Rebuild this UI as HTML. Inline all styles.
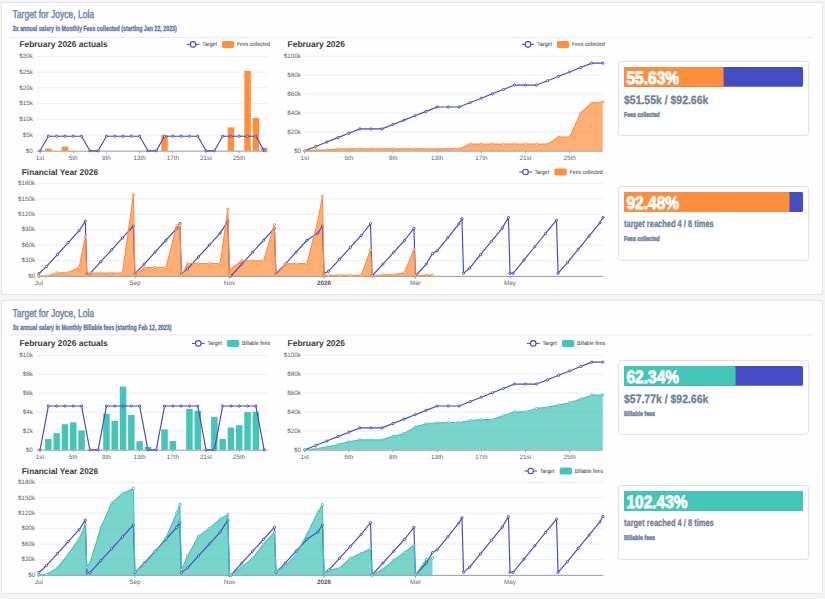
<!DOCTYPE html>
<html lang="en"><head><meta charset="utf-8"><title>Targets</title>
<style>
html,body{margin:0;padding:0}
body{width:825px;height:599px;overflow:hidden;background:#f4f4f5;position:relative;font-family:"Liberation Sans", sans-serif}
.panel{position:absolute;left:1px;width:820px;background:#fefefe;border:1px solid #e3e6eb;box-sizing:content-box}
</style></head><body>
<div class="panel" style="top:2px;height:291px"></div>
<div class="panel" style="top:300px;height:292px"></div>
<svg width="825" height="599" viewBox="0 0 825 599" font-family='"Liberation Sans", sans-serif' text-rendering="geometricPrecision" style="position:absolute;left:0;top:0">
<text x="12.60" y="18.00" font-size="11.3" textLength="81.50" lengthAdjust="spacingAndGlyphs" fill="#6f85a8" stroke="#6f85a8" stroke-width="0.45">Target for Joyce, Lola</text>
<text x="12.80" y="31.30" font-size="7.6" font-weight="bold" textLength="164.00" lengthAdjust="spacingAndGlyphs" fill="#5874ab" stroke="#5874ab" stroke-width="0.3">3x annual salary in Monthly Fees collected (starting Jan 22, 2023)</text>
<line x1="10.00" y1="37.40" x2="813.00" y2="37.40" stroke="#e3e6ee" stroke-width="0.9"/>
<text x="19.40" y="46.90" font-size="8.5" font-weight="bold" textLength="88.40" lengthAdjust="spacingAndGlyphs" fill="#3a3a3a">February 2026 actuals</text>
<text x="287.50" y="46.90" font-size="8.5" font-weight="bold" textLength="57.50" lengthAdjust="spacingAndGlyphs" fill="#3a3a3a">February 2026</text>
<text x="21.80" y="174.80" font-size="8.4" font-weight="bold" textLength="76.20" lengthAdjust="spacingAndGlyphs" fill="#3a3a3a">Financial Year 2026</text>
<text x="32.80" y="152.70" font-size="6.3" text-anchor="end" fill="#63656d">$0</text>
<line x1="36.80" y1="135.05" x2="267.70" y2="135.05" stroke="#e8ebf5" stroke-width="0.85"/>
<text x="32.80" y="136.95" font-size="6.3" text-anchor="end" fill="#63656d">$5k</text>
<line x1="36.80" y1="119.30" x2="267.70" y2="119.30" stroke="#e8ebf5" stroke-width="0.85"/>
<text x="32.80" y="121.20" font-size="6.3" text-anchor="end" fill="#63656d">$10k</text>
<line x1="36.80" y1="103.55" x2="267.70" y2="103.55" stroke="#e8ebf5" stroke-width="0.85"/>
<text x="32.80" y="105.45" font-size="6.3" text-anchor="end" fill="#63656d">$15k</text>
<line x1="36.80" y1="87.80" x2="267.70" y2="87.80" stroke="#e8ebf5" stroke-width="0.85"/>
<text x="32.80" y="89.70" font-size="6.3" text-anchor="end" fill="#63656d">$20k</text>
<line x1="36.80" y1="72.05" x2="267.70" y2="72.05" stroke="#e8ebf5" stroke-width="0.85"/>
<text x="32.80" y="73.95" font-size="6.3" text-anchor="end" fill="#63656d">$25k</text>
<line x1="36.80" y1="56.30" x2="267.70" y2="56.30" stroke="#e8ebf5" stroke-width="0.85"/>
<text x="32.80" y="58.20" font-size="6.3" text-anchor="end" fill="#63656d">$30k</text>
<rect x="45.10" y="148.44" width="6.50" height="2.36" fill="#ff8f3f"/>
<rect x="61.70" y="146.71" width="6.50" height="4.10" fill="#ff8f3f"/>
<rect x="161.30" y="135.21" width="6.50" height="15.59" fill="#ff8f3f"/>
<rect x="227.70" y="127.33" width="6.50" height="23.47" fill="#ff8f3f"/>
<rect x="244.30" y="70.95" width="6.50" height="79.85" fill="#ff8f3f"/>
<rect x="252.60" y="118.04" width="6.50" height="32.76" fill="#ff8f3f"/>
<rect x="260.90" y="147.65" width="6.50" height="3.15" fill="#ff8f3f"/>
<line x1="36.80" y1="151.15" x2="267.70" y2="151.15" stroke="#8a8d96" stroke-width="0.9"/>
<path d="M40.05 150.80 L48.35 136.21 L56.65 136.21 L64.95 136.21 L73.25 136.21 L81.55 136.21 L89.85 150.80 L98.15 150.80 L106.45 136.21 L114.75 136.21 L123.05 136.21 L131.35 136.21 L139.65 136.21 L147.95 150.80 L156.25 150.80 L164.55 136.21 L172.85 136.21 L181.15 136.21 L189.45 136.21 L197.75 136.21 L206.05 150.80 L214.35 150.80 L222.65 136.21 L230.95 136.21 L239.25 136.21 L247.55 136.21 L255.85 136.21 L264.15 150.80" fill="none" stroke="#4549c1" stroke-width="1.15" stroke-linejoin="round"/>
<circle cx="40.05" cy="150.80" r="1.1" fill="#fff" stroke="#4549c1" stroke-width="1.0"/>
<circle cx="48.35" cy="136.21" r="1.1" fill="#fff" stroke="#4549c1" stroke-width="1.0"/>
<circle cx="56.65" cy="136.21" r="1.1" fill="#fff" stroke="#4549c1" stroke-width="1.0"/>
<circle cx="64.95" cy="136.21" r="1.1" fill="#fff" stroke="#4549c1" stroke-width="1.0"/>
<circle cx="73.25" cy="136.21" r="1.1" fill="#fff" stroke="#4549c1" stroke-width="1.0"/>
<circle cx="81.55" cy="136.21" r="1.1" fill="#fff" stroke="#4549c1" stroke-width="1.0"/>
<circle cx="89.85" cy="150.80" r="1.1" fill="#fff" stroke="#4549c1" stroke-width="1.0"/>
<circle cx="98.15" cy="150.80" r="1.1" fill="#fff" stroke="#4549c1" stroke-width="1.0"/>
<circle cx="106.45" cy="136.21" r="1.1" fill="#fff" stroke="#4549c1" stroke-width="1.0"/>
<circle cx="114.75" cy="136.21" r="1.1" fill="#fff" stroke="#4549c1" stroke-width="1.0"/>
<circle cx="123.05" cy="136.21" r="1.1" fill="#fff" stroke="#4549c1" stroke-width="1.0"/>
<circle cx="131.35" cy="136.21" r="1.1" fill="#fff" stroke="#4549c1" stroke-width="1.0"/>
<circle cx="139.65" cy="136.21" r="1.1" fill="#fff" stroke="#4549c1" stroke-width="1.0"/>
<circle cx="147.95" cy="150.80" r="1.1" fill="#fff" stroke="#4549c1" stroke-width="1.0"/>
<circle cx="156.25" cy="150.80" r="1.1" fill="#fff" stroke="#4549c1" stroke-width="1.0"/>
<circle cx="164.55" cy="136.21" r="1.1" fill="#fff" stroke="#4549c1" stroke-width="1.0"/>
<circle cx="172.85" cy="136.21" r="1.1" fill="#fff" stroke="#4549c1" stroke-width="1.0"/>
<circle cx="181.15" cy="136.21" r="1.1" fill="#fff" stroke="#4549c1" stroke-width="1.0"/>
<circle cx="189.45" cy="136.21" r="1.1" fill="#fff" stroke="#4549c1" stroke-width="1.0"/>
<circle cx="197.75" cy="136.21" r="1.1" fill="#fff" stroke="#4549c1" stroke-width="1.0"/>
<circle cx="206.05" cy="150.80" r="1.1" fill="#fff" stroke="#4549c1" stroke-width="1.0"/>
<circle cx="214.35" cy="150.80" r="1.1" fill="#fff" stroke="#4549c1" stroke-width="1.0"/>
<circle cx="222.65" cy="136.21" r="1.1" fill="#fff" stroke="#4549c1" stroke-width="1.0"/>
<circle cx="230.95" cy="136.21" r="1.1" fill="#fff" stroke="#4549c1" stroke-width="1.0"/>
<circle cx="239.25" cy="136.21" r="1.1" fill="#fff" stroke="#4549c1" stroke-width="1.0"/>
<circle cx="247.55" cy="136.21" r="1.1" fill="#fff" stroke="#4549c1" stroke-width="1.0"/>
<circle cx="255.85" cy="136.21" r="1.1" fill="#fff" stroke="#4549c1" stroke-width="1.0"/>
<circle cx="264.15" cy="150.80" r="1.1" fill="#fff" stroke="#4549c1" stroke-width="1.0"/>
<line x1="40.05" y1="151.15" x2="40.05" y2="153.20" stroke="#8a8d96" stroke-width="0.7"/>
<text x="40.05" y="159.70" font-size="6.3" text-anchor="middle" fill="#63656d">1st</text>
<line x1="73.25" y1="151.15" x2="73.25" y2="153.20" stroke="#8a8d96" stroke-width="0.7"/>
<text x="73.25" y="159.70" font-size="6.3" text-anchor="middle" fill="#63656d">5th</text>
<line x1="106.45" y1="151.15" x2="106.45" y2="153.20" stroke="#8a8d96" stroke-width="0.7"/>
<text x="106.45" y="159.70" font-size="6.3" text-anchor="middle" fill="#63656d">9th</text>
<line x1="139.65" y1="151.15" x2="139.65" y2="153.20" stroke="#8a8d96" stroke-width="0.7"/>
<text x="139.65" y="159.70" font-size="6.3" text-anchor="middle" fill="#63656d">13th</text>
<line x1="172.85" y1="151.15" x2="172.85" y2="153.20" stroke="#8a8d96" stroke-width="0.7"/>
<text x="172.85" y="159.70" font-size="6.3" text-anchor="middle" fill="#63656d">17th</text>
<line x1="206.05" y1="151.15" x2="206.05" y2="153.20" stroke="#8a8d96" stroke-width="0.7"/>
<text x="206.05" y="159.70" font-size="6.3" text-anchor="middle" fill="#63656d">21st</text>
<line x1="239.25" y1="151.15" x2="239.25" y2="153.20" stroke="#8a8d96" stroke-width="0.7"/>
<text x="239.25" y="159.70" font-size="6.3" text-anchor="middle" fill="#63656d">25th</text>
<line x1="186.70" y1="44.40" x2="199.30" y2="44.40" stroke="#4549c1" stroke-width="1"/>
<circle cx="193.00" cy="44.40" r="2.75" fill="#fff" stroke="#4549c1" stroke-width="1.1"/>
<text x="202.30" y="46.40" font-size="6.0" textLength="14.70" lengthAdjust="spacingAndGlyphs" fill="#333">Target</text>
<rect x="221.90" y="40.90" width="12.20" height="7" rx="1.6" fill="#ff8f3f"/>
<text x="237.00" y="46.40" font-size="6.0" textLength="32.90" lengthAdjust="spacingAndGlyphs" fill="#333">Fees collected</text>
<text x="300.90" y="152.70" font-size="6.3" text-anchor="end" fill="#63656d">$0</text>
<line x1="304.30" y1="131.88" x2="602.90" y2="131.88" stroke="#e8ebf5" stroke-width="0.85"/>
<text x="300.90" y="133.78" font-size="6.3" text-anchor="end" fill="#63656d">$20k</text>
<line x1="304.30" y1="112.96" x2="602.90" y2="112.96" stroke="#e8ebf5" stroke-width="0.85"/>
<text x="300.90" y="114.86" font-size="6.3" text-anchor="end" fill="#63656d">$40k</text>
<line x1="304.30" y1="94.04" x2="602.90" y2="94.04" stroke="#e8ebf5" stroke-width="0.85"/>
<text x="300.90" y="95.94" font-size="6.3" text-anchor="end" fill="#63656d">$60k</text>
<line x1="304.30" y1="75.12" x2="602.90" y2="75.12" stroke="#e8ebf5" stroke-width="0.85"/>
<text x="300.90" y="77.02" font-size="6.3" text-anchor="end" fill="#63656d">$80k</text>
<line x1="304.30" y1="56.20" x2="602.90" y2="56.20" stroke="#e8ebf5" stroke-width="0.85"/>
<text x="300.90" y="58.10" font-size="6.3" text-anchor="end" fill="#63656d">$100k</text>
<path d="M304.70 150.80 L315.74 150.09 L326.78 150.09 L337.82 148.85 L348.86 148.85 L359.90 148.85 L370.94 148.85 L381.98 148.85 L393.02 148.85 L404.06 148.85 L415.10 148.85 L426.14 148.85 L437.18 148.85 L448.22 148.85 L459.26 148.85 L470.30 144.13 L481.34 144.13 L492.38 144.13 L503.42 144.13 L514.46 144.13 L525.50 144.13 L536.54 144.13 L547.58 144.13 L558.62 137.04 L569.66 137.04 L580.70 112.89 L591.74 102.99 L602.78 102.03 L602.78 150.80 L304.70 150.80 Z" fill="#ff8f3f" fill-opacity="0.72" stroke="none"/>
<line x1="304.30" y1="151.15" x2="602.90" y2="151.15" stroke="#8a8d96" stroke-width="0.9"/>
<path d="M304.70 150.80 L315.74 146.42 L326.78 142.03 L337.82 137.65 L348.86 133.27 L359.90 128.89 L370.94 128.89 L381.98 128.89 L393.02 124.50 L404.06 120.12 L415.10 115.74 L426.14 111.35 L437.18 106.97 L448.22 106.97 L459.26 106.97 L470.30 102.59 L481.34 98.21 L492.38 93.82 L503.42 89.44 L514.46 85.06 L525.50 85.06 L536.54 85.06 L547.58 80.67 L558.62 76.29 L569.66 71.91 L580.70 67.53 L591.74 63.14 L602.78 63.14" fill="none" stroke="#4549c1" stroke-width="1.15" stroke-linejoin="round"/>
<circle cx="304.70" cy="150.80" r="1.1" fill="#fff" stroke="#4549c1" stroke-width="1.0"/>
<circle cx="315.74" cy="146.42" r="1.1" fill="#fff" stroke="#4549c1" stroke-width="1.0"/>
<circle cx="326.78" cy="142.03" r="1.1" fill="#fff" stroke="#4549c1" stroke-width="1.0"/>
<circle cx="337.82" cy="137.65" r="1.1" fill="#fff" stroke="#4549c1" stroke-width="1.0"/>
<circle cx="348.86" cy="133.27" r="1.1" fill="#fff" stroke="#4549c1" stroke-width="1.0"/>
<circle cx="359.90" cy="128.89" r="1.1" fill="#fff" stroke="#4549c1" stroke-width="1.0"/>
<circle cx="370.94" cy="128.89" r="1.1" fill="#fff" stroke="#4549c1" stroke-width="1.0"/>
<circle cx="381.98" cy="128.89" r="1.1" fill="#fff" stroke="#4549c1" stroke-width="1.0"/>
<circle cx="393.02" cy="124.50" r="1.1" fill="#fff" stroke="#4549c1" stroke-width="1.0"/>
<circle cx="404.06" cy="120.12" r="1.1" fill="#fff" stroke="#4549c1" stroke-width="1.0"/>
<circle cx="415.10" cy="115.74" r="1.1" fill="#fff" stroke="#4549c1" stroke-width="1.0"/>
<circle cx="426.14" cy="111.35" r="1.1" fill="#fff" stroke="#4549c1" stroke-width="1.0"/>
<circle cx="437.18" cy="106.97" r="1.1" fill="#fff" stroke="#4549c1" stroke-width="1.0"/>
<circle cx="448.22" cy="106.97" r="1.1" fill="#fff" stroke="#4549c1" stroke-width="1.0"/>
<circle cx="459.26" cy="106.97" r="1.1" fill="#fff" stroke="#4549c1" stroke-width="1.0"/>
<circle cx="470.30" cy="102.59" r="1.1" fill="#fff" stroke="#4549c1" stroke-width="1.0"/>
<circle cx="481.34" cy="98.21" r="1.1" fill="#fff" stroke="#4549c1" stroke-width="1.0"/>
<circle cx="492.38" cy="93.82" r="1.1" fill="#fff" stroke="#4549c1" stroke-width="1.0"/>
<circle cx="503.42" cy="89.44" r="1.1" fill="#fff" stroke="#4549c1" stroke-width="1.0"/>
<circle cx="514.46" cy="85.06" r="1.1" fill="#fff" stroke="#4549c1" stroke-width="1.0"/>
<circle cx="525.50" cy="85.06" r="1.1" fill="#fff" stroke="#4549c1" stroke-width="1.0"/>
<circle cx="536.54" cy="85.06" r="1.1" fill="#fff" stroke="#4549c1" stroke-width="1.0"/>
<circle cx="547.58" cy="80.67" r="1.1" fill="#fff" stroke="#4549c1" stroke-width="1.0"/>
<circle cx="558.62" cy="76.29" r="1.1" fill="#fff" stroke="#4549c1" stroke-width="1.0"/>
<circle cx="569.66" cy="71.91" r="1.1" fill="#fff" stroke="#4549c1" stroke-width="1.0"/>
<circle cx="580.70" cy="67.53" r="1.1" fill="#fff" stroke="#4549c1" stroke-width="1.0"/>
<circle cx="591.74" cy="63.14" r="1.1" fill="#fff" stroke="#4549c1" stroke-width="1.0"/>
<circle cx="602.78" cy="63.14" r="1.1" fill="#fff" stroke="#4549c1" stroke-width="1.0"/>
<path d="M304.70 150.80 L315.74 150.09 L326.78 150.09 L337.82 148.85 L348.86 148.85 L359.90 148.85 L370.94 148.85 L381.98 148.85 L393.02 148.85 L404.06 148.85 L415.10 148.85 L426.14 148.85 L437.18 148.85 L448.22 148.85 L459.26 148.85 L470.30 144.13 L481.34 144.13 L492.38 144.13 L503.42 144.13 L514.46 144.13 L525.50 144.13 L536.54 144.13 L547.58 144.13 L558.62 137.04 L569.66 137.04 L580.70 112.89 L591.74 102.99 L602.78 102.03" fill="none" stroke="#ff8f3f" stroke-width="1.1" stroke-linejoin="round"/>
<circle cx="304.70" cy="150.80" r="1.1" fill="#fff" stroke="#ff8f3f" stroke-width="1.0"/>
<circle cx="315.74" cy="150.09" r="1.1" fill="#fff" stroke="#ff8f3f" stroke-width="1.0"/>
<circle cx="326.78" cy="150.09" r="1.1" fill="#fff" stroke="#ff8f3f" stroke-width="1.0"/>
<circle cx="337.82" cy="148.85" r="1.1" fill="#fff" stroke="#ff8f3f" stroke-width="1.0"/>
<circle cx="348.86" cy="148.85" r="1.1" fill="#fff" stroke="#ff8f3f" stroke-width="1.0"/>
<circle cx="359.90" cy="148.85" r="1.1" fill="#fff" stroke="#ff8f3f" stroke-width="1.0"/>
<circle cx="370.94" cy="148.85" r="1.1" fill="#fff" stroke="#ff8f3f" stroke-width="1.0"/>
<circle cx="381.98" cy="148.85" r="1.1" fill="#fff" stroke="#ff8f3f" stroke-width="1.0"/>
<circle cx="393.02" cy="148.85" r="1.1" fill="#fff" stroke="#ff8f3f" stroke-width="1.0"/>
<circle cx="404.06" cy="148.85" r="1.1" fill="#fff" stroke="#ff8f3f" stroke-width="1.0"/>
<circle cx="415.10" cy="148.85" r="1.1" fill="#fff" stroke="#ff8f3f" stroke-width="1.0"/>
<circle cx="426.14" cy="148.85" r="1.1" fill="#fff" stroke="#ff8f3f" stroke-width="1.0"/>
<circle cx="437.18" cy="148.85" r="1.1" fill="#fff" stroke="#ff8f3f" stroke-width="1.0"/>
<circle cx="448.22" cy="148.85" r="1.1" fill="#fff" stroke="#ff8f3f" stroke-width="1.0"/>
<circle cx="459.26" cy="148.85" r="1.1" fill="#fff" stroke="#ff8f3f" stroke-width="1.0"/>
<circle cx="470.30" cy="144.13" r="1.1" fill="#fff" stroke="#ff8f3f" stroke-width="1.0"/>
<circle cx="481.34" cy="144.13" r="1.1" fill="#fff" stroke="#ff8f3f" stroke-width="1.0"/>
<circle cx="492.38" cy="144.13" r="1.1" fill="#fff" stroke="#ff8f3f" stroke-width="1.0"/>
<circle cx="503.42" cy="144.13" r="1.1" fill="#fff" stroke="#ff8f3f" stroke-width="1.0"/>
<circle cx="514.46" cy="144.13" r="1.1" fill="#fff" stroke="#ff8f3f" stroke-width="1.0"/>
<circle cx="525.50" cy="144.13" r="1.1" fill="#fff" stroke="#ff8f3f" stroke-width="1.0"/>
<circle cx="536.54" cy="144.13" r="1.1" fill="#fff" stroke="#ff8f3f" stroke-width="1.0"/>
<circle cx="547.58" cy="144.13" r="1.1" fill="#fff" stroke="#ff8f3f" stroke-width="1.0"/>
<circle cx="558.62" cy="137.04" r="1.1" fill="#fff" stroke="#ff8f3f" stroke-width="1.0"/>
<circle cx="569.66" cy="137.04" r="1.1" fill="#fff" stroke="#ff8f3f" stroke-width="1.0"/>
<circle cx="580.70" cy="112.89" r="1.1" fill="#fff" stroke="#ff8f3f" stroke-width="1.0"/>
<circle cx="591.74" cy="102.99" r="1.1" fill="#fff" stroke="#ff8f3f" stroke-width="1.0"/>
<circle cx="602.78" cy="102.03" r="1.1" fill="#fff" stroke="#ff8f3f" stroke-width="1.0"/>
<line x1="304.70" y1="151.15" x2="304.70" y2="153.20" stroke="#8a8d96" stroke-width="0.7"/>
<text x="304.70" y="159.70" font-size="6.3" text-anchor="middle" fill="#63656d">1st</text>
<line x1="348.86" y1="151.15" x2="348.86" y2="153.20" stroke="#8a8d96" stroke-width="0.7"/>
<text x="348.86" y="159.70" font-size="6.3" text-anchor="middle" fill="#63656d">5th</text>
<line x1="393.02" y1="151.15" x2="393.02" y2="153.20" stroke="#8a8d96" stroke-width="0.7"/>
<text x="393.02" y="159.70" font-size="6.3" text-anchor="middle" fill="#63656d">9th</text>
<line x1="437.18" y1="151.15" x2="437.18" y2="153.20" stroke="#8a8d96" stroke-width="0.7"/>
<text x="437.18" y="159.70" font-size="6.3" text-anchor="middle" fill="#63656d">13th</text>
<line x1="481.34" y1="151.15" x2="481.34" y2="153.20" stroke="#8a8d96" stroke-width="0.7"/>
<text x="481.34" y="159.70" font-size="6.3" text-anchor="middle" fill="#63656d">17th</text>
<line x1="525.50" y1="151.15" x2="525.50" y2="153.20" stroke="#8a8d96" stroke-width="0.7"/>
<text x="525.50" y="159.70" font-size="6.3" text-anchor="middle" fill="#63656d">21st</text>
<line x1="569.66" y1="151.15" x2="569.66" y2="153.20" stroke="#8a8d96" stroke-width="0.7"/>
<text x="569.66" y="159.70" font-size="6.3" text-anchor="middle" fill="#63656d">25th</text>
<line x1="521.70" y1="44.40" x2="534.30" y2="44.40" stroke="#4549c1" stroke-width="1"/>
<circle cx="528.00" cy="44.40" r="2.75" fill="#fff" stroke="#4549c1" stroke-width="1.1"/>
<text x="537.30" y="46.40" font-size="6.0" textLength="14.70" lengthAdjust="spacingAndGlyphs" fill="#333">Target</text>
<rect x="556.90" y="40.90" width="12.20" height="7" rx="1.6" fill="#ff8f3f"/>
<text x="572.00" y="46.40" font-size="6.0" textLength="32.90" lengthAdjust="spacingAndGlyphs" fill="#333">Fees collected</text>
<text x="35.20" y="277.70" font-size="6.3" text-anchor="end" fill="#63656d">$0</text>
<line x1="38.60" y1="260.57" x2="603.20" y2="260.57" stroke="#e8ebf5" stroke-width="0.85"/>
<text x="35.20" y="262.27" font-size="6.3" text-anchor="end" fill="#63656d">$30k</text>
<line x1="38.60" y1="245.13" x2="603.20" y2="245.13" stroke="#e8ebf5" stroke-width="0.85"/>
<text x="35.20" y="246.83" font-size="6.3" text-anchor="end" fill="#63656d">$60k</text>
<line x1="38.60" y1="229.70" x2="603.20" y2="229.70" stroke="#e8ebf5" stroke-width="0.85"/>
<text x="35.20" y="231.40" font-size="6.3" text-anchor="end" fill="#63656d">$90k</text>
<line x1="38.60" y1="214.27" x2="603.20" y2="214.27" stroke="#e8ebf5" stroke-width="0.85"/>
<text x="35.20" y="215.97" font-size="6.3" text-anchor="end" fill="#63656d">$120k</text>
<line x1="38.60" y1="198.83" x2="603.20" y2="198.83" stroke="#e8ebf5" stroke-width="0.85"/>
<text x="35.20" y="200.53" font-size="6.3" text-anchor="end" fill="#63656d">$150k</text>
<line x1="38.60" y1="183.40" x2="603.20" y2="183.40" stroke="#e8ebf5" stroke-width="0.85"/>
<text x="35.20" y="185.10" font-size="6.3" text-anchor="end" fill="#63656d">$180k</text>
<path d="M38.80 276.00 L46.55 276.00 L57.40 272.71 L68.25 272.71 L79.10 267.25 L85.30 236.90 L86.85 276.00 L89.95 273.17 L100.80 273.17 L111.65 273.17 L122.50 273.17 L133.35 194.98 L134.90 276.00 L144.20 267.51 L155.05 267.51 L165.90 267.51 L176.75 225.69 L179.85 225.69 L181.40 276.00 L187.60 263.50 L198.45 263.50 L209.30 263.50 L220.15 263.50 L227.90 209.12 L229.45 276.00 L231.00 268.80 L241.85 260.72 L252.70 260.72 L263.55 260.72 L274.40 224.66 L275.95 276.00 L285.25 263.86 L296.10 263.65 L306.95 263.65 L317.80 221.47 L322.45 196.26 L324.00 276.00 L328.65 275.33 L339.50 275.33 L350.35 275.33 L361.20 275.33 L370.50 249.76 L372.05 276.00 L382.90 274.82 L393.75 274.82 L404.60 272.50 L413.90 249.48 L415.45 276.00 L426.30 275.13 L432.50 275.13 L432.50 276.00 L38.80 276.00 Z" fill="#ff8f3f" fill-opacity="0.72" stroke="none"/>
<line x1="38.60" y1="276.35" x2="603.20" y2="276.35" stroke="#8a8d96" stroke-width="0.9"/>
<path d="M38.80 273.62 L46.55 266.47 L57.40 254.55 L68.25 242.63 L79.10 230.71 L85.30 221.18 L86.85 273.62 L89.95 273.62 L100.80 261.70 L111.65 249.78 L122.50 237.87 L133.35 225.95 L134.90 273.62 L144.20 264.08 L155.05 252.17 L165.90 240.25 L176.75 228.33 L179.85 223.56 L181.40 273.62 L187.60 268.85 L198.45 256.93 L209.30 245.02 L220.15 233.10 L227.90 221.18 L229.45 276.00 L231.00 276.00 L241.85 264.08 L252.70 252.17 L263.55 240.25 L274.40 228.33 L275.95 273.62 L285.25 264.08 L296.10 252.17 L306.95 240.25 L317.80 233.10 L322.45 225.95 L324.00 273.62 L328.65 271.23 L339.50 259.32 L350.35 247.40 L361.20 235.48 L370.50 223.56 L372.05 276.00 L382.90 264.08 L393.75 252.17 L404.60 240.25 L413.90 228.33 L415.45 276.00 L426.30 264.06 L432.50 253.62 L437.15 250.79 L448.00 237.67 L458.85 223.94 L461.95 218.74 L463.50 273.34 L469.70 268.02 L480.55 254.72 L491.40 241.42 L502.25 228.13 L508.45 217.49 L510.00 273.34 L513.10 273.34 L523.95 260.04 L534.80 246.74 L545.65 233.45 L556.50 220.15 L558.05 273.34 L567.35 262.70 L578.20 249.40 L589.05 236.10 L599.90 222.81 L603.00 217.49" fill="none" stroke="#4549c1" stroke-width="1.15" stroke-linejoin="round"/>
<circle cx="38.80" cy="273.62" r="1.1" fill="#fff" stroke="#4549c1" stroke-width="1.0"/>
<circle cx="46.55" cy="266.47" r="1.1" fill="#fff" stroke="#4549c1" stroke-width="1.0"/>
<circle cx="57.40" cy="254.55" r="1.1" fill="#fff" stroke="#4549c1" stroke-width="1.0"/>
<circle cx="68.25" cy="242.63" r="1.1" fill="#fff" stroke="#4549c1" stroke-width="1.0"/>
<circle cx="79.10" cy="230.71" r="1.1" fill="#fff" stroke="#4549c1" stroke-width="1.0"/>
<circle cx="85.30" cy="221.18" r="1.1" fill="#fff" stroke="#4549c1" stroke-width="1.0"/>
<circle cx="86.85" cy="273.62" r="1.1" fill="#fff" stroke="#4549c1" stroke-width="1.0"/>
<circle cx="89.95" cy="273.62" r="1.1" fill="#fff" stroke="#4549c1" stroke-width="1.0"/>
<circle cx="100.80" cy="261.70" r="1.1" fill="#fff" stroke="#4549c1" stroke-width="1.0"/>
<circle cx="111.65" cy="249.78" r="1.1" fill="#fff" stroke="#4549c1" stroke-width="1.0"/>
<circle cx="122.50" cy="237.87" r="1.1" fill="#fff" stroke="#4549c1" stroke-width="1.0"/>
<circle cx="133.35" cy="225.95" r="1.1" fill="#fff" stroke="#4549c1" stroke-width="1.0"/>
<circle cx="134.90" cy="273.62" r="1.1" fill="#fff" stroke="#4549c1" stroke-width="1.0"/>
<circle cx="144.20" cy="264.08" r="1.1" fill="#fff" stroke="#4549c1" stroke-width="1.0"/>
<circle cx="155.05" cy="252.17" r="1.1" fill="#fff" stroke="#4549c1" stroke-width="1.0"/>
<circle cx="165.90" cy="240.25" r="1.1" fill="#fff" stroke="#4549c1" stroke-width="1.0"/>
<circle cx="176.75" cy="228.33" r="1.1" fill="#fff" stroke="#4549c1" stroke-width="1.0"/>
<circle cx="179.85" cy="223.56" r="1.1" fill="#fff" stroke="#4549c1" stroke-width="1.0"/>
<circle cx="181.40" cy="273.62" r="1.1" fill="#fff" stroke="#4549c1" stroke-width="1.0"/>
<circle cx="187.60" cy="268.85" r="1.1" fill="#fff" stroke="#4549c1" stroke-width="1.0"/>
<circle cx="198.45" cy="256.93" r="1.1" fill="#fff" stroke="#4549c1" stroke-width="1.0"/>
<circle cx="209.30" cy="245.02" r="1.1" fill="#fff" stroke="#4549c1" stroke-width="1.0"/>
<circle cx="220.15" cy="233.10" r="1.1" fill="#fff" stroke="#4549c1" stroke-width="1.0"/>
<circle cx="227.90" cy="221.18" r="1.1" fill="#fff" stroke="#4549c1" stroke-width="1.0"/>
<circle cx="229.45" cy="276.00" r="1.1" fill="#fff" stroke="#4549c1" stroke-width="1.0"/>
<circle cx="231.00" cy="276.00" r="1.1" fill="#fff" stroke="#4549c1" stroke-width="1.0"/>
<circle cx="241.85" cy="264.08" r="1.1" fill="#fff" stroke="#4549c1" stroke-width="1.0"/>
<circle cx="252.70" cy="252.17" r="1.1" fill="#fff" stroke="#4549c1" stroke-width="1.0"/>
<circle cx="263.55" cy="240.25" r="1.1" fill="#fff" stroke="#4549c1" stroke-width="1.0"/>
<circle cx="274.40" cy="228.33" r="1.1" fill="#fff" stroke="#4549c1" stroke-width="1.0"/>
<circle cx="275.95" cy="273.62" r="1.1" fill="#fff" stroke="#4549c1" stroke-width="1.0"/>
<circle cx="285.25" cy="264.08" r="1.1" fill="#fff" stroke="#4549c1" stroke-width="1.0"/>
<circle cx="296.10" cy="252.17" r="1.1" fill="#fff" stroke="#4549c1" stroke-width="1.0"/>
<circle cx="306.95" cy="240.25" r="1.1" fill="#fff" stroke="#4549c1" stroke-width="1.0"/>
<circle cx="317.80" cy="233.10" r="1.1" fill="#fff" stroke="#4549c1" stroke-width="1.0"/>
<circle cx="322.45" cy="225.95" r="1.1" fill="#fff" stroke="#4549c1" stroke-width="1.0"/>
<circle cx="324.00" cy="273.62" r="1.1" fill="#fff" stroke="#4549c1" stroke-width="1.0"/>
<circle cx="328.65" cy="271.23" r="1.1" fill="#fff" stroke="#4549c1" stroke-width="1.0"/>
<circle cx="339.50" cy="259.32" r="1.1" fill="#fff" stroke="#4549c1" stroke-width="1.0"/>
<circle cx="350.35" cy="247.40" r="1.1" fill="#fff" stroke="#4549c1" stroke-width="1.0"/>
<circle cx="361.20" cy="235.48" r="1.1" fill="#fff" stroke="#4549c1" stroke-width="1.0"/>
<circle cx="370.50" cy="223.56" r="1.1" fill="#fff" stroke="#4549c1" stroke-width="1.0"/>
<circle cx="372.05" cy="276.00" r="1.1" fill="#fff" stroke="#4549c1" stroke-width="1.0"/>
<circle cx="382.90" cy="264.08" r="1.1" fill="#fff" stroke="#4549c1" stroke-width="1.0"/>
<circle cx="393.75" cy="252.17" r="1.1" fill="#fff" stroke="#4549c1" stroke-width="1.0"/>
<circle cx="404.60" cy="240.25" r="1.1" fill="#fff" stroke="#4549c1" stroke-width="1.0"/>
<circle cx="413.90" cy="228.33" r="1.1" fill="#fff" stroke="#4549c1" stroke-width="1.0"/>
<circle cx="415.45" cy="276.00" r="1.1" fill="#fff" stroke="#4549c1" stroke-width="1.0"/>
<circle cx="426.30" cy="264.06" r="1.1" fill="#fff" stroke="#4549c1" stroke-width="1.0"/>
<circle cx="432.50" cy="253.62" r="1.1" fill="#fff" stroke="#4549c1" stroke-width="1.0"/>
<circle cx="437.15" cy="250.79" r="1.1" fill="#fff" stroke="#4549c1" stroke-width="1.0"/>
<circle cx="448.00" cy="237.67" r="1.1" fill="#fff" stroke="#4549c1" stroke-width="1.0"/>
<circle cx="458.85" cy="223.94" r="1.1" fill="#fff" stroke="#4549c1" stroke-width="1.0"/>
<circle cx="461.95" cy="218.74" r="1.1" fill="#fff" stroke="#4549c1" stroke-width="1.0"/>
<circle cx="463.50" cy="273.34" r="1.1" fill="#fff" stroke="#4549c1" stroke-width="1.0"/>
<circle cx="469.70" cy="268.02" r="1.1" fill="#fff" stroke="#4549c1" stroke-width="1.0"/>
<circle cx="480.55" cy="254.72" r="1.1" fill="#fff" stroke="#4549c1" stroke-width="1.0"/>
<circle cx="491.40" cy="241.42" r="1.1" fill="#fff" stroke="#4549c1" stroke-width="1.0"/>
<circle cx="502.25" cy="228.13" r="1.1" fill="#fff" stroke="#4549c1" stroke-width="1.0"/>
<circle cx="508.45" cy="217.49" r="1.1" fill="#fff" stroke="#4549c1" stroke-width="1.0"/>
<circle cx="510.00" cy="273.34" r="1.1" fill="#fff" stroke="#4549c1" stroke-width="1.0"/>
<circle cx="513.10" cy="273.34" r="1.1" fill="#fff" stroke="#4549c1" stroke-width="1.0"/>
<circle cx="523.95" cy="260.04" r="1.1" fill="#fff" stroke="#4549c1" stroke-width="1.0"/>
<circle cx="534.80" cy="246.74" r="1.1" fill="#fff" stroke="#4549c1" stroke-width="1.0"/>
<circle cx="545.65" cy="233.45" r="1.1" fill="#fff" stroke="#4549c1" stroke-width="1.0"/>
<circle cx="556.50" cy="220.15" r="1.1" fill="#fff" stroke="#4549c1" stroke-width="1.0"/>
<circle cx="558.05" cy="273.34" r="1.1" fill="#fff" stroke="#4549c1" stroke-width="1.0"/>
<circle cx="567.35" cy="262.70" r="1.1" fill="#fff" stroke="#4549c1" stroke-width="1.0"/>
<circle cx="578.20" cy="249.40" r="1.1" fill="#fff" stroke="#4549c1" stroke-width="1.0"/>
<circle cx="589.05" cy="236.10" r="1.1" fill="#fff" stroke="#4549c1" stroke-width="1.0"/>
<circle cx="599.90" cy="222.81" r="1.1" fill="#fff" stroke="#4549c1" stroke-width="1.0"/>
<circle cx="603.00" cy="217.49" r="1.1" fill="#fff" stroke="#4549c1" stroke-width="1.0"/>
<path d="M38.80 276.00 L46.55 276.00 L57.40 272.71 L68.25 272.71 L79.10 267.25 L85.30 236.90 L86.85 276.00 L89.95 273.17 L100.80 273.17 L111.65 273.17 L122.50 273.17 L133.35 194.98 L134.90 276.00 L144.20 267.51 L155.05 267.51 L165.90 267.51 L176.75 225.69 L179.85 225.69 L181.40 276.00 L187.60 263.50 L198.45 263.50 L209.30 263.50 L220.15 263.50 L227.90 209.12 L229.45 276.00 L231.00 268.80 L241.85 260.72 L252.70 260.72 L263.55 260.72 L274.40 224.66 L275.95 276.00 L285.25 263.86 L296.10 263.65 L306.95 263.65 L317.80 221.47 L322.45 196.26 L324.00 276.00 L328.65 275.33 L339.50 275.33 L350.35 275.33 L361.20 275.33 L370.50 249.76 L372.05 276.00 L382.90 274.82 L393.75 274.82 L404.60 272.50 L413.90 249.48 L415.45 276.00 L426.30 275.13 L432.50 275.13" fill="none" stroke="#ff8f3f" stroke-width="1.1" stroke-linejoin="round"/>
<circle cx="38.80" cy="276.00" r="1.1" fill="#fff" stroke="#ff8f3f" stroke-width="1.0"/>
<circle cx="46.55" cy="276.00" r="1.1" fill="#fff" stroke="#ff8f3f" stroke-width="1.0"/>
<circle cx="57.40" cy="272.71" r="1.1" fill="#fff" stroke="#ff8f3f" stroke-width="1.0"/>
<circle cx="68.25" cy="272.71" r="1.1" fill="#fff" stroke="#ff8f3f" stroke-width="1.0"/>
<circle cx="79.10" cy="267.25" r="1.1" fill="#fff" stroke="#ff8f3f" stroke-width="1.0"/>
<circle cx="85.30" cy="236.90" r="1.1" fill="#fff" stroke="#ff8f3f" stroke-width="1.0"/>
<circle cx="86.85" cy="276.00" r="1.1" fill="#fff" stroke="#ff8f3f" stroke-width="1.0"/>
<circle cx="89.95" cy="273.17" r="1.1" fill="#fff" stroke="#ff8f3f" stroke-width="1.0"/>
<circle cx="100.80" cy="273.17" r="1.1" fill="#fff" stroke="#ff8f3f" stroke-width="1.0"/>
<circle cx="111.65" cy="273.17" r="1.1" fill="#fff" stroke="#ff8f3f" stroke-width="1.0"/>
<circle cx="122.50" cy="273.17" r="1.1" fill="#fff" stroke="#ff8f3f" stroke-width="1.0"/>
<circle cx="133.35" cy="194.98" r="1.1" fill="#fff" stroke="#ff8f3f" stroke-width="1.0"/>
<circle cx="134.90" cy="276.00" r="1.1" fill="#fff" stroke="#ff8f3f" stroke-width="1.0"/>
<circle cx="144.20" cy="267.51" r="1.1" fill="#fff" stroke="#ff8f3f" stroke-width="1.0"/>
<circle cx="155.05" cy="267.51" r="1.1" fill="#fff" stroke="#ff8f3f" stroke-width="1.0"/>
<circle cx="165.90" cy="267.51" r="1.1" fill="#fff" stroke="#ff8f3f" stroke-width="1.0"/>
<circle cx="176.75" cy="225.69" r="1.1" fill="#fff" stroke="#ff8f3f" stroke-width="1.0"/>
<circle cx="179.85" cy="225.69" r="1.1" fill="#fff" stroke="#ff8f3f" stroke-width="1.0"/>
<circle cx="181.40" cy="276.00" r="1.1" fill="#fff" stroke="#ff8f3f" stroke-width="1.0"/>
<circle cx="187.60" cy="263.50" r="1.1" fill="#fff" stroke="#ff8f3f" stroke-width="1.0"/>
<circle cx="198.45" cy="263.50" r="1.1" fill="#fff" stroke="#ff8f3f" stroke-width="1.0"/>
<circle cx="209.30" cy="263.50" r="1.1" fill="#fff" stroke="#ff8f3f" stroke-width="1.0"/>
<circle cx="220.15" cy="263.50" r="1.1" fill="#fff" stroke="#ff8f3f" stroke-width="1.0"/>
<circle cx="227.90" cy="209.12" r="1.1" fill="#fff" stroke="#ff8f3f" stroke-width="1.0"/>
<circle cx="229.45" cy="276.00" r="1.1" fill="#fff" stroke="#ff8f3f" stroke-width="1.0"/>
<circle cx="231.00" cy="268.80" r="1.1" fill="#fff" stroke="#ff8f3f" stroke-width="1.0"/>
<circle cx="241.85" cy="260.72" r="1.1" fill="#fff" stroke="#ff8f3f" stroke-width="1.0"/>
<circle cx="252.70" cy="260.72" r="1.1" fill="#fff" stroke="#ff8f3f" stroke-width="1.0"/>
<circle cx="263.55" cy="260.72" r="1.1" fill="#fff" stroke="#ff8f3f" stroke-width="1.0"/>
<circle cx="274.40" cy="224.66" r="1.1" fill="#fff" stroke="#ff8f3f" stroke-width="1.0"/>
<circle cx="275.95" cy="276.00" r="1.1" fill="#fff" stroke="#ff8f3f" stroke-width="1.0"/>
<circle cx="285.25" cy="263.86" r="1.1" fill="#fff" stroke="#ff8f3f" stroke-width="1.0"/>
<circle cx="296.10" cy="263.65" r="1.1" fill="#fff" stroke="#ff8f3f" stroke-width="1.0"/>
<circle cx="306.95" cy="263.65" r="1.1" fill="#fff" stroke="#ff8f3f" stroke-width="1.0"/>
<circle cx="317.80" cy="221.47" r="1.1" fill="#fff" stroke="#ff8f3f" stroke-width="1.0"/>
<circle cx="322.45" cy="196.26" r="1.1" fill="#fff" stroke="#ff8f3f" stroke-width="1.0"/>
<circle cx="324.00" cy="276.00" r="1.1" fill="#fff" stroke="#ff8f3f" stroke-width="1.0"/>
<circle cx="328.65" cy="275.33" r="1.1" fill="#fff" stroke="#ff8f3f" stroke-width="1.0"/>
<circle cx="339.50" cy="275.33" r="1.1" fill="#fff" stroke="#ff8f3f" stroke-width="1.0"/>
<circle cx="350.35" cy="275.33" r="1.1" fill="#fff" stroke="#ff8f3f" stroke-width="1.0"/>
<circle cx="361.20" cy="275.33" r="1.1" fill="#fff" stroke="#ff8f3f" stroke-width="1.0"/>
<circle cx="370.50" cy="249.76" r="1.1" fill="#fff" stroke="#ff8f3f" stroke-width="1.0"/>
<circle cx="372.05" cy="276.00" r="1.1" fill="#fff" stroke="#ff8f3f" stroke-width="1.0"/>
<circle cx="382.90" cy="274.82" r="1.1" fill="#fff" stroke="#ff8f3f" stroke-width="1.0"/>
<circle cx="393.75" cy="274.82" r="1.1" fill="#fff" stroke="#ff8f3f" stroke-width="1.0"/>
<circle cx="404.60" cy="272.50" r="1.1" fill="#fff" stroke="#ff8f3f" stroke-width="1.0"/>
<circle cx="413.90" cy="249.48" r="1.1" fill="#fff" stroke="#ff8f3f" stroke-width="1.0"/>
<circle cx="415.45" cy="276.00" r="1.1" fill="#fff" stroke="#ff8f3f" stroke-width="1.0"/>
<circle cx="426.30" cy="275.13" r="1.1" fill="#fff" stroke="#ff8f3f" stroke-width="1.0"/>
<circle cx="432.50" cy="275.13" r="1.1" fill="#fff" stroke="#ff8f3f" stroke-width="1.0"/>
<line x1="38.80" y1="276.00" x2="38.80" y2="278.60" stroke="#8a8d96" stroke-width="0.8"/>
<text x="38.80" y="284.90" font-size="6.3" text-anchor="middle" fill="#63656d">Jul</text>
<line x1="134.90" y1="276.00" x2="134.90" y2="278.60" stroke="#8a8d96" stroke-width="0.8"/>
<text x="134.90" y="284.90" font-size="6.3" text-anchor="middle" fill="#63656d">Sep</text>
<line x1="229.45" y1="276.00" x2="229.45" y2="278.60" stroke="#8a8d96" stroke-width="0.8"/>
<text x="229.45" y="284.90" font-size="6.3" text-anchor="middle" fill="#63656d">Nov</text>
<line x1="324.00" y1="276.00" x2="324.00" y2="278.60" stroke="#8a8d96" stroke-width="0.8"/>
<text x="324.00" y="284.90" font-size="6.3" font-weight="bold" text-anchor="middle" fill="#555">2026</text>
<line x1="415.45" y1="276.00" x2="415.45" y2="278.60" stroke="#8a8d96" stroke-width="0.8"/>
<text x="415.45" y="284.90" font-size="6.3" text-anchor="middle" fill="#63656d">Mar</text>
<line x1="510.00" y1="276.00" x2="510.00" y2="278.60" stroke="#8a8d96" stroke-width="0.8"/>
<text x="510.00" y="284.90" font-size="6.3" text-anchor="middle" fill="#63656d">May</text>
<line x1="519.10" y1="172.00" x2="532.00" y2="172.00" stroke="#4549c1" stroke-width="1"/>
<circle cx="525.55" cy="172.00" r="2.75" fill="#fff" stroke="#4549c1" stroke-width="1.1"/>
<text x="534.40" y="174.00" font-size="6.0" textLength="14.90" lengthAdjust="spacingAndGlyphs" fill="#333">Target</text>
<rect x="554.40" y="168.50" width="12.50" height="7" rx="1.6" fill="#ff8f3f"/>
<text x="569.70" y="174.00" font-size="6.0" textLength="33.00" lengthAdjust="spacingAndGlyphs" fill="#333">Fees collected</text>
<rect x="618.30" y="61.40" width="190.30" height="73.90" rx="3" fill="#fff" stroke="#dcdde0" stroke-width="0.9"/>
<rect x="624.0" y="66.95" width="179.0" height="19.9" rx="1.5" fill="#454bc3"/>
<rect x="624.0" y="66.95" width="99.58" height="19.9" rx="1.5" fill="#ff8f3f"/>
<text x="626.50" y="84.00" font-size="18" font-weight="bold" textLength="52.60" lengthAdjust="spacingAndGlyphs" fill="#fff" stroke="#fff" stroke-width="0.8">55.63%</text>
<text x="624.00" y="104.20" font-size="12" font-weight="bold" textLength="84.30" lengthAdjust="spacingAndGlyphs" fill="#6c7f99" stroke="#6c7f99" stroke-width="0.3">$51.55k / $92.66k</text>
<text x="624.00" y="117.00" font-size="7" font-weight="bold" textLength="35.70" lengthAdjust="spacingAndGlyphs" fill="#6c7f99" stroke="#6c7f99" stroke-width="0.45">Fees collected</text>
<rect x="618.30" y="186.50" width="190.30" height="73.90" rx="3" fill="#fff" stroke="#dcdde0" stroke-width="0.9"/>
<rect x="624.0" y="192.05" width="179.0" height="19.9" rx="1.5" fill="#454bc3"/>
<rect x="624.0" y="192.05" width="165.54" height="19.9" rx="1.5" fill="#ff8f3f"/>
<text x="626.50" y="209.10" font-size="18" font-weight="bold" textLength="52.60" lengthAdjust="spacingAndGlyphs" fill="#fff" stroke="#fff" stroke-width="0.8">92.48%</text>
<text x="624.00" y="226.80" font-size="9.8" font-weight="bold" textLength="89.70" lengthAdjust="spacingAndGlyphs" fill="#6c7f99" stroke="#6c7f99" stroke-width="0.3">target reached 4 / 8 times</text>
<text x="624.00" y="241.40" font-size="7" font-weight="bold" textLength="35.70" lengthAdjust="spacingAndGlyphs" fill="#6c7f99" stroke="#6c7f99" stroke-width="0.45">Fees collected</text>
<text x="12.60" y="317.00" font-size="11.3" textLength="81.50" lengthAdjust="spacingAndGlyphs" fill="#6f85a8" stroke="#6f85a8" stroke-width="0.45">Target for Joyce, Lola</text>
<text x="12.80" y="330.30" font-size="7.6" font-weight="bold" textLength="158.60" lengthAdjust="spacingAndGlyphs" fill="#5874ab" stroke="#5874ab" stroke-width="0.3">3x annual salary in Monthly Billable fees (starting Feb 12, 2023)</text>
<line x1="10.00" y1="334.95" x2="813.00" y2="334.95" stroke="#e3e6ee" stroke-width="0.9"/>
<text x="19.40" y="345.90" font-size="8.5" font-weight="bold" textLength="88.40" lengthAdjust="spacingAndGlyphs" fill="#3a3a3a">February 2026 actuals</text>
<text x="287.50" y="345.90" font-size="8.5" font-weight="bold" textLength="57.50" lengthAdjust="spacingAndGlyphs" fill="#3a3a3a">February 2026</text>
<text x="21.80" y="473.80" font-size="8.4" font-weight="bold" textLength="76.20" lengthAdjust="spacingAndGlyphs" fill="#3a3a3a">Financial Year 2026</text>
<text x="32.80" y="451.70" font-size="6.3" text-anchor="end" fill="#63656d">$0</text>
<line x1="36.80" y1="430.90" x2="267.70" y2="430.90" stroke="#e8ebf5" stroke-width="0.85"/>
<text x="32.80" y="432.80" font-size="6.3" text-anchor="end" fill="#63656d">$2k</text>
<line x1="36.80" y1="412.00" x2="267.70" y2="412.00" stroke="#e8ebf5" stroke-width="0.85"/>
<text x="32.80" y="413.90" font-size="6.3" text-anchor="end" fill="#63656d">$4k</text>
<line x1="36.80" y1="393.10" x2="267.70" y2="393.10" stroke="#e8ebf5" stroke-width="0.85"/>
<text x="32.80" y="395.00" font-size="6.3" text-anchor="end" fill="#63656d">$6k</text>
<line x1="36.80" y1="374.20" x2="267.70" y2="374.20" stroke="#e8ebf5" stroke-width="0.85"/>
<text x="32.80" y="376.10" font-size="6.3" text-anchor="end" fill="#63656d">$8k</text>
<line x1="36.80" y1="355.30" x2="267.70" y2="355.30" stroke="#e8ebf5" stroke-width="0.85"/>
<text x="32.80" y="357.20" font-size="6.3" text-anchor="end" fill="#63656d">$10k</text>
<rect x="45.10" y="439.03" width="6.50" height="10.77" fill="#45c4b8"/>
<rect x="53.40" y="433.17" width="6.50" height="16.63" fill="#45c4b8"/>
<rect x="61.70" y="424.19" width="6.50" height="25.61" fill="#45c4b8"/>
<rect x="70.00" y="422.30" width="6.50" height="27.50" fill="#45c4b8"/>
<rect x="78.30" y="430.43" width="6.50" height="19.37" fill="#45c4b8"/>
<rect x="103.20" y="413.70" width="6.50" height="36.10" fill="#45c4b8"/>
<rect x="111.50" y="420.88" width="6.50" height="28.92" fill="#45c4b8"/>
<rect x="119.80" y="386.49" width="6.50" height="63.32" fill="#45c4b8"/>
<rect x="128.10" y="415.02" width="6.50" height="34.78" fill="#45c4b8"/>
<rect x="136.40" y="441.20" width="6.50" height="8.60" fill="#45c4b8"/>
<rect x="144.70" y="446.87" width="6.50" height="2.93" fill="#45c4b8"/>
<rect x="161.30" y="429.39" width="6.50" height="20.41" fill="#45c4b8"/>
<rect x="169.60" y="441.01" width="6.50" height="8.79" fill="#45c4b8"/>
<rect x="186.20" y="408.88" width="6.50" height="40.92" fill="#45c4b8"/>
<rect x="194.50" y="410.77" width="6.50" height="39.03" fill="#45c4b8"/>
<rect x="211.10" y="416.82" width="6.50" height="32.98" fill="#45c4b8"/>
<rect x="219.40" y="438.93" width="6.50" height="10.87" fill="#45c4b8"/>
<rect x="227.70" y="427.50" width="6.50" height="22.30" fill="#45c4b8"/>
<rect x="236.00" y="425.23" width="6.50" height="24.57" fill="#45c4b8"/>
<rect x="244.30" y="412.00" width="6.50" height="37.80" fill="#45c4b8"/>
<rect x="252.60" y="411.81" width="6.50" height="37.99" fill="#45c4b8"/>
<line x1="36.80" y1="450.15" x2="267.70" y2="450.15" stroke="#8a8d96" stroke-width="0.9"/>
<path d="M40.05 449.80 L48.35 406.02 L56.65 406.02 L64.95 406.02 L73.25 406.02 L81.55 406.02 L89.85 449.80 L98.15 449.80 L106.45 406.02 L114.75 406.02 L123.05 406.02 L131.35 406.02 L139.65 406.02 L147.95 449.80 L156.25 449.80 L164.55 406.02 L172.85 406.02 L181.15 406.02 L189.45 406.02 L197.75 406.02 L206.05 449.80 L214.35 449.80 L222.65 406.02 L230.95 406.02 L239.25 406.02 L247.55 406.02 L255.85 406.02 L264.15 449.80" fill="none" stroke="#4549c1" stroke-width="1.15" stroke-linejoin="round"/>
<circle cx="40.05" cy="449.80" r="1.1" fill="#fff" stroke="#4549c1" stroke-width="1.0"/>
<circle cx="48.35" cy="406.02" r="1.1" fill="#fff" stroke="#4549c1" stroke-width="1.0"/>
<circle cx="56.65" cy="406.02" r="1.1" fill="#fff" stroke="#4549c1" stroke-width="1.0"/>
<circle cx="64.95" cy="406.02" r="1.1" fill="#fff" stroke="#4549c1" stroke-width="1.0"/>
<circle cx="73.25" cy="406.02" r="1.1" fill="#fff" stroke="#4549c1" stroke-width="1.0"/>
<circle cx="81.55" cy="406.02" r="1.1" fill="#fff" stroke="#4549c1" stroke-width="1.0"/>
<circle cx="89.85" cy="449.80" r="1.1" fill="#fff" stroke="#4549c1" stroke-width="1.0"/>
<circle cx="98.15" cy="449.80" r="1.1" fill="#fff" stroke="#4549c1" stroke-width="1.0"/>
<circle cx="106.45" cy="406.02" r="1.1" fill="#fff" stroke="#4549c1" stroke-width="1.0"/>
<circle cx="114.75" cy="406.02" r="1.1" fill="#fff" stroke="#4549c1" stroke-width="1.0"/>
<circle cx="123.05" cy="406.02" r="1.1" fill="#fff" stroke="#4549c1" stroke-width="1.0"/>
<circle cx="131.35" cy="406.02" r="1.1" fill="#fff" stroke="#4549c1" stroke-width="1.0"/>
<circle cx="139.65" cy="406.02" r="1.1" fill="#fff" stroke="#4549c1" stroke-width="1.0"/>
<circle cx="147.95" cy="449.80" r="1.1" fill="#fff" stroke="#4549c1" stroke-width="1.0"/>
<circle cx="156.25" cy="449.80" r="1.1" fill="#fff" stroke="#4549c1" stroke-width="1.0"/>
<circle cx="164.55" cy="406.02" r="1.1" fill="#fff" stroke="#4549c1" stroke-width="1.0"/>
<circle cx="172.85" cy="406.02" r="1.1" fill="#fff" stroke="#4549c1" stroke-width="1.0"/>
<circle cx="181.15" cy="406.02" r="1.1" fill="#fff" stroke="#4549c1" stroke-width="1.0"/>
<circle cx="189.45" cy="406.02" r="1.1" fill="#fff" stroke="#4549c1" stroke-width="1.0"/>
<circle cx="197.75" cy="406.02" r="1.1" fill="#fff" stroke="#4549c1" stroke-width="1.0"/>
<circle cx="206.05" cy="449.80" r="1.1" fill="#fff" stroke="#4549c1" stroke-width="1.0"/>
<circle cx="214.35" cy="449.80" r="1.1" fill="#fff" stroke="#4549c1" stroke-width="1.0"/>
<circle cx="222.65" cy="406.02" r="1.1" fill="#fff" stroke="#4549c1" stroke-width="1.0"/>
<circle cx="230.95" cy="406.02" r="1.1" fill="#fff" stroke="#4549c1" stroke-width="1.0"/>
<circle cx="239.25" cy="406.02" r="1.1" fill="#fff" stroke="#4549c1" stroke-width="1.0"/>
<circle cx="247.55" cy="406.02" r="1.1" fill="#fff" stroke="#4549c1" stroke-width="1.0"/>
<circle cx="255.85" cy="406.02" r="1.1" fill="#fff" stroke="#4549c1" stroke-width="1.0"/>
<circle cx="264.15" cy="449.80" r="1.1" fill="#fff" stroke="#4549c1" stroke-width="1.0"/>
<line x1="40.05" y1="450.15" x2="40.05" y2="452.20" stroke="#8a8d96" stroke-width="0.7"/>
<text x="40.05" y="458.70" font-size="6.3" text-anchor="middle" fill="#63656d">1st</text>
<line x1="73.25" y1="450.15" x2="73.25" y2="452.20" stroke="#8a8d96" stroke-width="0.7"/>
<text x="73.25" y="458.70" font-size="6.3" text-anchor="middle" fill="#63656d">5th</text>
<line x1="106.45" y1="450.15" x2="106.45" y2="452.20" stroke="#8a8d96" stroke-width="0.7"/>
<text x="106.45" y="458.70" font-size="6.3" text-anchor="middle" fill="#63656d">9th</text>
<line x1="139.65" y1="450.15" x2="139.65" y2="452.20" stroke="#8a8d96" stroke-width="0.7"/>
<text x="139.65" y="458.70" font-size="6.3" text-anchor="middle" fill="#63656d">13th</text>
<line x1="172.85" y1="450.15" x2="172.85" y2="452.20" stroke="#8a8d96" stroke-width="0.7"/>
<text x="172.85" y="458.70" font-size="6.3" text-anchor="middle" fill="#63656d">17th</text>
<line x1="206.05" y1="450.15" x2="206.05" y2="452.20" stroke="#8a8d96" stroke-width="0.7"/>
<text x="206.05" y="458.70" font-size="6.3" text-anchor="middle" fill="#63656d">21st</text>
<line x1="239.25" y1="450.15" x2="239.25" y2="452.20" stroke="#8a8d96" stroke-width="0.7"/>
<text x="239.25" y="458.70" font-size="6.3" text-anchor="middle" fill="#63656d">25th</text>
<line x1="191.90" y1="343.40" x2="204.60" y2="343.40" stroke="#4549c1" stroke-width="1"/>
<circle cx="198.25" cy="343.40" r="2.75" fill="#fff" stroke="#4549c1" stroke-width="1.1"/>
<text x="207.40" y="345.40" font-size="6.0" textLength="14.50" lengthAdjust="spacingAndGlyphs" fill="#333">Target</text>
<rect x="227.00" y="339.90" width="12.30" height="7" rx="1.6" fill="#45c4b8"/>
<text x="241.90" y="345.40" font-size="6.0" textLength="28.30" lengthAdjust="spacingAndGlyphs" fill="#333">Billable fees</text>
<text x="300.90" y="451.70" font-size="6.3" text-anchor="end" fill="#63656d">$0</text>
<line x1="304.30" y1="430.88" x2="602.90" y2="430.88" stroke="#e8ebf5" stroke-width="0.85"/>
<text x="300.90" y="432.78" font-size="6.3" text-anchor="end" fill="#63656d">$20k</text>
<line x1="304.30" y1="411.96" x2="602.90" y2="411.96" stroke="#e8ebf5" stroke-width="0.85"/>
<text x="300.90" y="413.86" font-size="6.3" text-anchor="end" fill="#63656d">$40k</text>
<line x1="304.30" y1="393.04" x2="602.90" y2="393.04" stroke="#e8ebf5" stroke-width="0.85"/>
<text x="300.90" y="394.94" font-size="6.3" text-anchor="end" fill="#63656d">$60k</text>
<line x1="304.30" y1="374.12" x2="602.90" y2="374.12" stroke="#e8ebf5" stroke-width="0.85"/>
<text x="300.90" y="376.02" font-size="6.3" text-anchor="end" fill="#63656d">$80k</text>
<line x1="304.30" y1="355.20" x2="602.90" y2="355.20" stroke="#e8ebf5" stroke-width="0.85"/>
<text x="300.90" y="357.10" font-size="6.3" text-anchor="end" fill="#63656d">$100k</text>
<path d="M304.70 449.80 L315.74 448.73 L326.78 447.08 L337.82 444.53 L348.86 441.80 L359.90 439.88 L370.94 439.88 L381.98 439.88 L393.02 436.29 L404.06 433.42 L415.10 427.13 L426.14 423.68 L437.18 422.82 L448.22 422.53 L459.26 422.53 L470.30 420.50 L481.34 419.63 L492.38 419.63 L503.42 415.57 L514.46 411.69 L525.50 411.69 L536.54 408.41 L547.58 407.33 L558.62 405.12 L569.66 402.68 L580.70 398.92 L591.74 395.15 L602.78 395.15 L602.78 449.80 L304.70 449.80 Z" fill="#45c4b8" fill-opacity="0.72" stroke="none"/>
<line x1="304.30" y1="450.15" x2="602.90" y2="450.15" stroke="#8a8d96" stroke-width="0.9"/>
<path d="M304.70 449.80 L315.74 445.42 L326.78 441.03 L337.82 436.65 L348.86 432.27 L359.90 427.89 L370.94 427.89 L381.98 427.89 L393.02 423.50 L404.06 419.12 L415.10 414.74 L426.14 410.35 L437.18 405.97 L448.22 405.97 L459.26 405.97 L470.30 401.59 L481.34 397.21 L492.38 392.82 L503.42 388.44 L514.46 384.06 L525.50 384.06 L536.54 384.06 L547.58 379.67 L558.62 375.29 L569.66 370.91 L580.70 366.53 L591.74 362.14 L602.78 362.14" fill="none" stroke="#4549c1" stroke-width="1.15" stroke-linejoin="round"/>
<circle cx="304.70" cy="449.80" r="1.1" fill="#fff" stroke="#4549c1" stroke-width="1.0"/>
<circle cx="315.74" cy="445.42" r="1.1" fill="#fff" stroke="#4549c1" stroke-width="1.0"/>
<circle cx="326.78" cy="441.03" r="1.1" fill="#fff" stroke="#4549c1" stroke-width="1.0"/>
<circle cx="337.82" cy="436.65" r="1.1" fill="#fff" stroke="#4549c1" stroke-width="1.0"/>
<circle cx="348.86" cy="432.27" r="1.1" fill="#fff" stroke="#4549c1" stroke-width="1.0"/>
<circle cx="359.90" cy="427.89" r="1.1" fill="#fff" stroke="#4549c1" stroke-width="1.0"/>
<circle cx="370.94" cy="427.89" r="1.1" fill="#fff" stroke="#4549c1" stroke-width="1.0"/>
<circle cx="381.98" cy="427.89" r="1.1" fill="#fff" stroke="#4549c1" stroke-width="1.0"/>
<circle cx="393.02" cy="423.50" r="1.1" fill="#fff" stroke="#4549c1" stroke-width="1.0"/>
<circle cx="404.06" cy="419.12" r="1.1" fill="#fff" stroke="#4549c1" stroke-width="1.0"/>
<circle cx="415.10" cy="414.74" r="1.1" fill="#fff" stroke="#4549c1" stroke-width="1.0"/>
<circle cx="426.14" cy="410.35" r="1.1" fill="#fff" stroke="#4549c1" stroke-width="1.0"/>
<circle cx="437.18" cy="405.97" r="1.1" fill="#fff" stroke="#4549c1" stroke-width="1.0"/>
<circle cx="448.22" cy="405.97" r="1.1" fill="#fff" stroke="#4549c1" stroke-width="1.0"/>
<circle cx="459.26" cy="405.97" r="1.1" fill="#fff" stroke="#4549c1" stroke-width="1.0"/>
<circle cx="470.30" cy="401.59" r="1.1" fill="#fff" stroke="#4549c1" stroke-width="1.0"/>
<circle cx="481.34" cy="397.21" r="1.1" fill="#fff" stroke="#4549c1" stroke-width="1.0"/>
<circle cx="492.38" cy="392.82" r="1.1" fill="#fff" stroke="#4549c1" stroke-width="1.0"/>
<circle cx="503.42" cy="388.44" r="1.1" fill="#fff" stroke="#4549c1" stroke-width="1.0"/>
<circle cx="514.46" cy="384.06" r="1.1" fill="#fff" stroke="#4549c1" stroke-width="1.0"/>
<circle cx="525.50" cy="384.06" r="1.1" fill="#fff" stroke="#4549c1" stroke-width="1.0"/>
<circle cx="536.54" cy="384.06" r="1.1" fill="#fff" stroke="#4549c1" stroke-width="1.0"/>
<circle cx="547.58" cy="379.67" r="1.1" fill="#fff" stroke="#4549c1" stroke-width="1.0"/>
<circle cx="558.62" cy="375.29" r="1.1" fill="#fff" stroke="#4549c1" stroke-width="1.0"/>
<circle cx="569.66" cy="370.91" r="1.1" fill="#fff" stroke="#4549c1" stroke-width="1.0"/>
<circle cx="580.70" cy="366.53" r="1.1" fill="#fff" stroke="#4549c1" stroke-width="1.0"/>
<circle cx="591.74" cy="362.14" r="1.1" fill="#fff" stroke="#4549c1" stroke-width="1.0"/>
<circle cx="602.78" cy="362.14" r="1.1" fill="#fff" stroke="#4549c1" stroke-width="1.0"/>
<path d="M304.70 449.80 L315.74 448.73 L326.78 447.08 L337.82 444.53 L348.86 441.80 L359.90 439.88 L370.94 439.88 L381.98 439.88 L393.02 436.29 L404.06 433.42 L415.10 427.13 L426.14 423.68 L437.18 422.82 L448.22 422.53 L459.26 422.53 L470.30 420.50 L481.34 419.63 L492.38 419.63 L503.42 415.57 L514.46 411.69 L525.50 411.69 L536.54 408.41 L547.58 407.33 L558.62 405.12 L569.66 402.68 L580.70 398.92 L591.74 395.15 L602.78 395.15" fill="none" stroke="#45c4b8" stroke-width="1.1" stroke-linejoin="round"/>
<circle cx="304.70" cy="449.80" r="1.1" fill="#fff" stroke="#45c4b8" stroke-width="1.0"/>
<circle cx="315.74" cy="448.73" r="1.1" fill="#fff" stroke="#45c4b8" stroke-width="1.0"/>
<circle cx="326.78" cy="447.08" r="1.1" fill="#fff" stroke="#45c4b8" stroke-width="1.0"/>
<circle cx="337.82" cy="444.53" r="1.1" fill="#fff" stroke="#45c4b8" stroke-width="1.0"/>
<circle cx="348.86" cy="441.80" r="1.1" fill="#fff" stroke="#45c4b8" stroke-width="1.0"/>
<circle cx="359.90" cy="439.88" r="1.1" fill="#fff" stroke="#45c4b8" stroke-width="1.0"/>
<circle cx="370.94" cy="439.88" r="1.1" fill="#fff" stroke="#45c4b8" stroke-width="1.0"/>
<circle cx="381.98" cy="439.88" r="1.1" fill="#fff" stroke="#45c4b8" stroke-width="1.0"/>
<circle cx="393.02" cy="436.29" r="1.1" fill="#fff" stroke="#45c4b8" stroke-width="1.0"/>
<circle cx="404.06" cy="433.42" r="1.1" fill="#fff" stroke="#45c4b8" stroke-width="1.0"/>
<circle cx="415.10" cy="427.13" r="1.1" fill="#fff" stroke="#45c4b8" stroke-width="1.0"/>
<circle cx="426.14" cy="423.68" r="1.1" fill="#fff" stroke="#45c4b8" stroke-width="1.0"/>
<circle cx="437.18" cy="422.82" r="1.1" fill="#fff" stroke="#45c4b8" stroke-width="1.0"/>
<circle cx="448.22" cy="422.53" r="1.1" fill="#fff" stroke="#45c4b8" stroke-width="1.0"/>
<circle cx="459.26" cy="422.53" r="1.1" fill="#fff" stroke="#45c4b8" stroke-width="1.0"/>
<circle cx="470.30" cy="420.50" r="1.1" fill="#fff" stroke="#45c4b8" stroke-width="1.0"/>
<circle cx="481.34" cy="419.63" r="1.1" fill="#fff" stroke="#45c4b8" stroke-width="1.0"/>
<circle cx="492.38" cy="419.63" r="1.1" fill="#fff" stroke="#45c4b8" stroke-width="1.0"/>
<circle cx="503.42" cy="415.57" r="1.1" fill="#fff" stroke="#45c4b8" stroke-width="1.0"/>
<circle cx="514.46" cy="411.69" r="1.1" fill="#fff" stroke="#45c4b8" stroke-width="1.0"/>
<circle cx="525.50" cy="411.69" r="1.1" fill="#fff" stroke="#45c4b8" stroke-width="1.0"/>
<circle cx="536.54" cy="408.41" r="1.1" fill="#fff" stroke="#45c4b8" stroke-width="1.0"/>
<circle cx="547.58" cy="407.33" r="1.1" fill="#fff" stroke="#45c4b8" stroke-width="1.0"/>
<circle cx="558.62" cy="405.12" r="1.1" fill="#fff" stroke="#45c4b8" stroke-width="1.0"/>
<circle cx="569.66" cy="402.68" r="1.1" fill="#fff" stroke="#45c4b8" stroke-width="1.0"/>
<circle cx="580.70" cy="398.92" r="1.1" fill="#fff" stroke="#45c4b8" stroke-width="1.0"/>
<circle cx="591.74" cy="395.15" r="1.1" fill="#fff" stroke="#45c4b8" stroke-width="1.0"/>
<circle cx="602.78" cy="395.15" r="1.1" fill="#fff" stroke="#45c4b8" stroke-width="1.0"/>
<line x1="304.70" y1="450.15" x2="304.70" y2="452.20" stroke="#8a8d96" stroke-width="0.7"/>
<text x="304.70" y="458.70" font-size="6.3" text-anchor="middle" fill="#63656d">1st</text>
<line x1="348.86" y1="450.15" x2="348.86" y2="452.20" stroke="#8a8d96" stroke-width="0.7"/>
<text x="348.86" y="458.70" font-size="6.3" text-anchor="middle" fill="#63656d">5th</text>
<line x1="393.02" y1="450.15" x2="393.02" y2="452.20" stroke="#8a8d96" stroke-width="0.7"/>
<text x="393.02" y="458.70" font-size="6.3" text-anchor="middle" fill="#63656d">9th</text>
<line x1="437.18" y1="450.15" x2="437.18" y2="452.20" stroke="#8a8d96" stroke-width="0.7"/>
<text x="437.18" y="458.70" font-size="6.3" text-anchor="middle" fill="#63656d">13th</text>
<line x1="481.34" y1="450.15" x2="481.34" y2="452.20" stroke="#8a8d96" stroke-width="0.7"/>
<text x="481.34" y="458.70" font-size="6.3" text-anchor="middle" fill="#63656d">17th</text>
<line x1="525.50" y1="450.15" x2="525.50" y2="452.20" stroke="#8a8d96" stroke-width="0.7"/>
<text x="525.50" y="458.70" font-size="6.3" text-anchor="middle" fill="#63656d">21st</text>
<line x1="569.66" y1="450.15" x2="569.66" y2="452.20" stroke="#8a8d96" stroke-width="0.7"/>
<text x="569.66" y="458.70" font-size="6.3" text-anchor="middle" fill="#63656d">25th</text>
<line x1="526.90" y1="343.40" x2="539.60" y2="343.40" stroke="#4549c1" stroke-width="1"/>
<circle cx="533.25" cy="343.40" r="2.75" fill="#fff" stroke="#4549c1" stroke-width="1.1"/>
<text x="542.40" y="345.40" font-size="6.0" textLength="14.50" lengthAdjust="spacingAndGlyphs" fill="#333">Target</text>
<rect x="562.00" y="339.90" width="12.30" height="7" rx="1.6" fill="#45c4b8"/>
<text x="576.90" y="345.40" font-size="6.0" textLength="28.30" lengthAdjust="spacingAndGlyphs" fill="#333">Billable fees</text>
<text x="35.20" y="576.70" font-size="6.3" text-anchor="end" fill="#63656d">$0</text>
<line x1="38.60" y1="559.57" x2="603.20" y2="559.57" stroke="#e8ebf5" stroke-width="0.85"/>
<text x="35.20" y="561.27" font-size="6.3" text-anchor="end" fill="#63656d">$30k</text>
<line x1="38.60" y1="544.13" x2="603.20" y2="544.13" stroke="#e8ebf5" stroke-width="0.85"/>
<text x="35.20" y="545.83" font-size="6.3" text-anchor="end" fill="#63656d">$60k</text>
<line x1="38.60" y1="528.70" x2="603.20" y2="528.70" stroke="#e8ebf5" stroke-width="0.85"/>
<text x="35.20" y="530.40" font-size="6.3" text-anchor="end" fill="#63656d">$90k</text>
<line x1="38.60" y1="513.27" x2="603.20" y2="513.27" stroke="#e8ebf5" stroke-width="0.85"/>
<text x="35.20" y="514.97" font-size="6.3" text-anchor="end" fill="#63656d">$120k</text>
<line x1="38.60" y1="497.83" x2="603.20" y2="497.83" stroke="#e8ebf5" stroke-width="0.85"/>
<text x="35.20" y="499.53" font-size="6.3" text-anchor="end" fill="#63656d">$150k</text>
<line x1="38.60" y1="482.40" x2="603.20" y2="482.40" stroke="#e8ebf5" stroke-width="0.85"/>
<text x="35.20" y="484.10" font-size="6.3" text-anchor="end" fill="#63656d">$180k</text>
<path d="M38.80 574.74 L46.55 574.49 L57.40 567.85 L68.25 554.27 L79.10 538.94 L85.30 524.84 L86.85 567.49 L89.95 563.17 L100.80 527.77 L111.65 503.08 L122.50 493.46 L133.35 488.42 L134.90 572.02 L144.20 564.56 L155.05 551.85 L165.90 537.91 L176.75 512.80 L179.85 504.47 L181.40 569.75 L187.60 556.02 L198.45 536.16 L209.30 528.34 L220.15 519.08 L227.90 514.40 L229.45 575.00 L231.00 575.00 L241.85 566.82 L252.70 558.13 L263.55 543.98 L274.40 532.30 L275.95 572.02 L285.25 566.31 L296.10 554.42 L306.95 534.36 L317.80 512.44 L322.45 504.47 L324.00 572.22 L328.65 570.11 L339.50 568.21 L350.35 558.13 L361.20 553.24 L370.50 548.87 L372.05 575.00 L382.90 569.24 L393.75 560.18 L404.60 552.16 L413.90 545.28 L415.45 575.00 L426.30 559.31 L432.50 558.13 L432.50 575.00 L38.80 575.00 Z" fill="#45c4b8" fill-opacity="0.72" stroke="none"/>
<line x1="38.60" y1="575.35" x2="603.20" y2="575.35" stroke="#8a8d96" stroke-width="0.9"/>
<path d="M38.80 572.62 L46.55 565.47 L57.40 553.55 L68.25 541.63 L79.10 529.71 L85.30 520.18 L86.85 572.62 L89.95 572.62 L100.80 560.70 L111.65 548.78 L122.50 536.87 L133.35 524.95 L134.90 572.62 L144.20 563.08 L155.05 551.17 L165.90 539.25 L176.75 527.33 L179.85 522.56 L181.40 572.62 L187.60 567.85 L198.45 555.93 L209.30 544.02 L220.15 532.10 L227.90 520.18 L229.45 575.00 L231.00 575.00 L241.85 563.08 L252.70 551.17 L263.55 539.25 L274.40 527.33 L275.95 572.62 L285.25 563.08 L296.10 551.17 L306.95 539.25 L317.80 532.10 L322.45 524.95 L324.00 572.62 L328.65 570.23 L339.50 558.32 L350.35 546.40 L361.20 534.48 L370.50 522.56 L372.05 575.00 L382.90 563.08 L393.75 551.17 L404.60 539.25 L413.90 527.33 L415.45 575.00 L426.30 563.06 L432.50 552.62 L437.15 549.79 L448.00 536.67 L458.85 522.94 L461.95 517.74 L463.50 572.34 L469.70 567.02 L480.55 553.72 L491.40 540.42 L502.25 527.13 L508.45 516.49 L510.00 572.34 L513.10 572.34 L523.95 559.04 L534.80 545.74 L545.65 532.45 L556.50 519.15 L558.05 572.34 L567.35 561.70 L578.20 548.40 L589.05 535.10 L599.90 521.81 L603.00 516.49" fill="none" stroke="#4549c1" stroke-width="1.15" stroke-linejoin="round"/>
<circle cx="38.80" cy="572.62" r="1.1" fill="#fff" stroke="#4549c1" stroke-width="1.0"/>
<circle cx="46.55" cy="565.47" r="1.1" fill="#fff" stroke="#4549c1" stroke-width="1.0"/>
<circle cx="57.40" cy="553.55" r="1.1" fill="#fff" stroke="#4549c1" stroke-width="1.0"/>
<circle cx="68.25" cy="541.63" r="1.1" fill="#fff" stroke="#4549c1" stroke-width="1.0"/>
<circle cx="79.10" cy="529.71" r="1.1" fill="#fff" stroke="#4549c1" stroke-width="1.0"/>
<circle cx="85.30" cy="520.18" r="1.1" fill="#fff" stroke="#4549c1" stroke-width="1.0"/>
<circle cx="86.85" cy="572.62" r="1.1" fill="#fff" stroke="#4549c1" stroke-width="1.0"/>
<circle cx="89.95" cy="572.62" r="1.1" fill="#fff" stroke="#4549c1" stroke-width="1.0"/>
<circle cx="100.80" cy="560.70" r="1.1" fill="#fff" stroke="#4549c1" stroke-width="1.0"/>
<circle cx="111.65" cy="548.78" r="1.1" fill="#fff" stroke="#4549c1" stroke-width="1.0"/>
<circle cx="122.50" cy="536.87" r="1.1" fill="#fff" stroke="#4549c1" stroke-width="1.0"/>
<circle cx="133.35" cy="524.95" r="1.1" fill="#fff" stroke="#4549c1" stroke-width="1.0"/>
<circle cx="134.90" cy="572.62" r="1.1" fill="#fff" stroke="#4549c1" stroke-width="1.0"/>
<circle cx="144.20" cy="563.08" r="1.1" fill="#fff" stroke="#4549c1" stroke-width="1.0"/>
<circle cx="155.05" cy="551.17" r="1.1" fill="#fff" stroke="#4549c1" stroke-width="1.0"/>
<circle cx="165.90" cy="539.25" r="1.1" fill="#fff" stroke="#4549c1" stroke-width="1.0"/>
<circle cx="176.75" cy="527.33" r="1.1" fill="#fff" stroke="#4549c1" stroke-width="1.0"/>
<circle cx="179.85" cy="522.56" r="1.1" fill="#fff" stroke="#4549c1" stroke-width="1.0"/>
<circle cx="181.40" cy="572.62" r="1.1" fill="#fff" stroke="#4549c1" stroke-width="1.0"/>
<circle cx="187.60" cy="567.85" r="1.1" fill="#fff" stroke="#4549c1" stroke-width="1.0"/>
<circle cx="198.45" cy="555.93" r="1.1" fill="#fff" stroke="#4549c1" stroke-width="1.0"/>
<circle cx="209.30" cy="544.02" r="1.1" fill="#fff" stroke="#4549c1" stroke-width="1.0"/>
<circle cx="220.15" cy="532.10" r="1.1" fill="#fff" stroke="#4549c1" stroke-width="1.0"/>
<circle cx="227.90" cy="520.18" r="1.1" fill="#fff" stroke="#4549c1" stroke-width="1.0"/>
<circle cx="229.45" cy="575.00" r="1.1" fill="#fff" stroke="#4549c1" stroke-width="1.0"/>
<circle cx="231.00" cy="575.00" r="1.1" fill="#fff" stroke="#4549c1" stroke-width="1.0"/>
<circle cx="241.85" cy="563.08" r="1.1" fill="#fff" stroke="#4549c1" stroke-width="1.0"/>
<circle cx="252.70" cy="551.17" r="1.1" fill="#fff" stroke="#4549c1" stroke-width="1.0"/>
<circle cx="263.55" cy="539.25" r="1.1" fill="#fff" stroke="#4549c1" stroke-width="1.0"/>
<circle cx="274.40" cy="527.33" r="1.1" fill="#fff" stroke="#4549c1" stroke-width="1.0"/>
<circle cx="275.95" cy="572.62" r="1.1" fill="#fff" stroke="#4549c1" stroke-width="1.0"/>
<circle cx="285.25" cy="563.08" r="1.1" fill="#fff" stroke="#4549c1" stroke-width="1.0"/>
<circle cx="296.10" cy="551.17" r="1.1" fill="#fff" stroke="#4549c1" stroke-width="1.0"/>
<circle cx="306.95" cy="539.25" r="1.1" fill="#fff" stroke="#4549c1" stroke-width="1.0"/>
<circle cx="317.80" cy="532.10" r="1.1" fill="#fff" stroke="#4549c1" stroke-width="1.0"/>
<circle cx="322.45" cy="524.95" r="1.1" fill="#fff" stroke="#4549c1" stroke-width="1.0"/>
<circle cx="324.00" cy="572.62" r="1.1" fill="#fff" stroke="#4549c1" stroke-width="1.0"/>
<circle cx="328.65" cy="570.23" r="1.1" fill="#fff" stroke="#4549c1" stroke-width="1.0"/>
<circle cx="339.50" cy="558.32" r="1.1" fill="#fff" stroke="#4549c1" stroke-width="1.0"/>
<circle cx="350.35" cy="546.40" r="1.1" fill="#fff" stroke="#4549c1" stroke-width="1.0"/>
<circle cx="361.20" cy="534.48" r="1.1" fill="#fff" stroke="#4549c1" stroke-width="1.0"/>
<circle cx="370.50" cy="522.56" r="1.1" fill="#fff" stroke="#4549c1" stroke-width="1.0"/>
<circle cx="372.05" cy="575.00" r="1.1" fill="#fff" stroke="#4549c1" stroke-width="1.0"/>
<circle cx="382.90" cy="563.08" r="1.1" fill="#fff" stroke="#4549c1" stroke-width="1.0"/>
<circle cx="393.75" cy="551.17" r="1.1" fill="#fff" stroke="#4549c1" stroke-width="1.0"/>
<circle cx="404.60" cy="539.25" r="1.1" fill="#fff" stroke="#4549c1" stroke-width="1.0"/>
<circle cx="413.90" cy="527.33" r="1.1" fill="#fff" stroke="#4549c1" stroke-width="1.0"/>
<circle cx="415.45" cy="575.00" r="1.1" fill="#fff" stroke="#4549c1" stroke-width="1.0"/>
<circle cx="426.30" cy="563.06" r="1.1" fill="#fff" stroke="#4549c1" stroke-width="1.0"/>
<circle cx="432.50" cy="552.62" r="1.1" fill="#fff" stroke="#4549c1" stroke-width="1.0"/>
<circle cx="437.15" cy="549.79" r="1.1" fill="#fff" stroke="#4549c1" stroke-width="1.0"/>
<circle cx="448.00" cy="536.67" r="1.1" fill="#fff" stroke="#4549c1" stroke-width="1.0"/>
<circle cx="458.85" cy="522.94" r="1.1" fill="#fff" stroke="#4549c1" stroke-width="1.0"/>
<circle cx="461.95" cy="517.74" r="1.1" fill="#fff" stroke="#4549c1" stroke-width="1.0"/>
<circle cx="463.50" cy="572.34" r="1.1" fill="#fff" stroke="#4549c1" stroke-width="1.0"/>
<circle cx="469.70" cy="567.02" r="1.1" fill="#fff" stroke="#4549c1" stroke-width="1.0"/>
<circle cx="480.55" cy="553.72" r="1.1" fill="#fff" stroke="#4549c1" stroke-width="1.0"/>
<circle cx="491.40" cy="540.42" r="1.1" fill="#fff" stroke="#4549c1" stroke-width="1.0"/>
<circle cx="502.25" cy="527.13" r="1.1" fill="#fff" stroke="#4549c1" stroke-width="1.0"/>
<circle cx="508.45" cy="516.49" r="1.1" fill="#fff" stroke="#4549c1" stroke-width="1.0"/>
<circle cx="510.00" cy="572.34" r="1.1" fill="#fff" stroke="#4549c1" stroke-width="1.0"/>
<circle cx="513.10" cy="572.34" r="1.1" fill="#fff" stroke="#4549c1" stroke-width="1.0"/>
<circle cx="523.95" cy="559.04" r="1.1" fill="#fff" stroke="#4549c1" stroke-width="1.0"/>
<circle cx="534.80" cy="545.74" r="1.1" fill="#fff" stroke="#4549c1" stroke-width="1.0"/>
<circle cx="545.65" cy="532.45" r="1.1" fill="#fff" stroke="#4549c1" stroke-width="1.0"/>
<circle cx="556.50" cy="519.15" r="1.1" fill="#fff" stroke="#4549c1" stroke-width="1.0"/>
<circle cx="558.05" cy="572.34" r="1.1" fill="#fff" stroke="#4549c1" stroke-width="1.0"/>
<circle cx="567.35" cy="561.70" r="1.1" fill="#fff" stroke="#4549c1" stroke-width="1.0"/>
<circle cx="578.20" cy="548.40" r="1.1" fill="#fff" stroke="#4549c1" stroke-width="1.0"/>
<circle cx="589.05" cy="535.10" r="1.1" fill="#fff" stroke="#4549c1" stroke-width="1.0"/>
<circle cx="599.90" cy="521.81" r="1.1" fill="#fff" stroke="#4549c1" stroke-width="1.0"/>
<circle cx="603.00" cy="516.49" r="1.1" fill="#fff" stroke="#4549c1" stroke-width="1.0"/>
<path d="M38.80 574.74 L46.55 574.49 L57.40 567.85 L68.25 554.27 L79.10 538.94 L85.30 524.84 L86.85 567.49 L89.95 563.17 L100.80 527.77 L111.65 503.08 L122.50 493.46 L133.35 488.42 L134.90 572.02 L144.20 564.56 L155.05 551.85 L165.90 537.91 L176.75 512.80 L179.85 504.47 L181.40 569.75 L187.60 556.02 L198.45 536.16 L209.30 528.34 L220.15 519.08 L227.90 514.40 L229.45 575.00 L231.00 575.00 L241.85 566.82 L252.70 558.13 L263.55 543.98 L274.40 532.30 L275.95 572.02 L285.25 566.31 L296.10 554.42 L306.95 534.36 L317.80 512.44 L322.45 504.47 L324.00 572.22 L328.65 570.11 L339.50 568.21 L350.35 558.13 L361.20 553.24 L370.50 548.87 L372.05 575.00 L382.90 569.24 L393.75 560.18 L404.60 552.16 L413.90 545.28 L415.45 575.00 L426.30 559.31 L432.50 558.13" fill="none" stroke="#45c4b8" stroke-width="1.1" stroke-linejoin="round"/>
<circle cx="38.80" cy="574.74" r="1.1" fill="#fff" stroke="#45c4b8" stroke-width="1.0"/>
<circle cx="46.55" cy="574.49" r="1.1" fill="#fff" stroke="#45c4b8" stroke-width="1.0"/>
<circle cx="57.40" cy="567.85" r="1.1" fill="#fff" stroke="#45c4b8" stroke-width="1.0"/>
<circle cx="68.25" cy="554.27" r="1.1" fill="#fff" stroke="#45c4b8" stroke-width="1.0"/>
<circle cx="79.10" cy="538.94" r="1.1" fill="#fff" stroke="#45c4b8" stroke-width="1.0"/>
<circle cx="85.30" cy="524.84" r="1.1" fill="#fff" stroke="#45c4b8" stroke-width="1.0"/>
<circle cx="86.85" cy="567.49" r="1.1" fill="#fff" stroke="#45c4b8" stroke-width="1.0"/>
<circle cx="89.95" cy="563.17" r="1.1" fill="#fff" stroke="#45c4b8" stroke-width="1.0"/>
<circle cx="100.80" cy="527.77" r="1.1" fill="#fff" stroke="#45c4b8" stroke-width="1.0"/>
<circle cx="111.65" cy="503.08" r="1.1" fill="#fff" stroke="#45c4b8" stroke-width="1.0"/>
<circle cx="122.50" cy="493.46" r="1.1" fill="#fff" stroke="#45c4b8" stroke-width="1.0"/>
<circle cx="133.35" cy="488.42" r="1.1" fill="#fff" stroke="#45c4b8" stroke-width="1.0"/>
<circle cx="134.90" cy="572.02" r="1.1" fill="#fff" stroke="#45c4b8" stroke-width="1.0"/>
<circle cx="144.20" cy="564.56" r="1.1" fill="#fff" stroke="#45c4b8" stroke-width="1.0"/>
<circle cx="155.05" cy="551.85" r="1.1" fill="#fff" stroke="#45c4b8" stroke-width="1.0"/>
<circle cx="165.90" cy="537.91" r="1.1" fill="#fff" stroke="#45c4b8" stroke-width="1.0"/>
<circle cx="176.75" cy="512.80" r="1.1" fill="#fff" stroke="#45c4b8" stroke-width="1.0"/>
<circle cx="179.85" cy="504.47" r="1.1" fill="#fff" stroke="#45c4b8" stroke-width="1.0"/>
<circle cx="181.40" cy="569.75" r="1.1" fill="#fff" stroke="#45c4b8" stroke-width="1.0"/>
<circle cx="187.60" cy="556.02" r="1.1" fill="#fff" stroke="#45c4b8" stroke-width="1.0"/>
<circle cx="198.45" cy="536.16" r="1.1" fill="#fff" stroke="#45c4b8" stroke-width="1.0"/>
<circle cx="209.30" cy="528.34" r="1.1" fill="#fff" stroke="#45c4b8" stroke-width="1.0"/>
<circle cx="220.15" cy="519.08" r="1.1" fill="#fff" stroke="#45c4b8" stroke-width="1.0"/>
<circle cx="227.90" cy="514.40" r="1.1" fill="#fff" stroke="#45c4b8" stroke-width="1.0"/>
<circle cx="229.45" cy="575.00" r="1.1" fill="#fff" stroke="#45c4b8" stroke-width="1.0"/>
<circle cx="231.00" cy="575.00" r="1.1" fill="#fff" stroke="#45c4b8" stroke-width="1.0"/>
<circle cx="241.85" cy="566.82" r="1.1" fill="#fff" stroke="#45c4b8" stroke-width="1.0"/>
<circle cx="252.70" cy="558.13" r="1.1" fill="#fff" stroke="#45c4b8" stroke-width="1.0"/>
<circle cx="263.55" cy="543.98" r="1.1" fill="#fff" stroke="#45c4b8" stroke-width="1.0"/>
<circle cx="274.40" cy="532.30" r="1.1" fill="#fff" stroke="#45c4b8" stroke-width="1.0"/>
<circle cx="275.95" cy="572.02" r="1.1" fill="#fff" stroke="#45c4b8" stroke-width="1.0"/>
<circle cx="285.25" cy="566.31" r="1.1" fill="#fff" stroke="#45c4b8" stroke-width="1.0"/>
<circle cx="296.10" cy="554.42" r="1.1" fill="#fff" stroke="#45c4b8" stroke-width="1.0"/>
<circle cx="306.95" cy="534.36" r="1.1" fill="#fff" stroke="#45c4b8" stroke-width="1.0"/>
<circle cx="317.80" cy="512.44" r="1.1" fill="#fff" stroke="#45c4b8" stroke-width="1.0"/>
<circle cx="322.45" cy="504.47" r="1.1" fill="#fff" stroke="#45c4b8" stroke-width="1.0"/>
<circle cx="324.00" cy="572.22" r="1.1" fill="#fff" stroke="#45c4b8" stroke-width="1.0"/>
<circle cx="328.65" cy="570.11" r="1.1" fill="#fff" stroke="#45c4b8" stroke-width="1.0"/>
<circle cx="339.50" cy="568.21" r="1.1" fill="#fff" stroke="#45c4b8" stroke-width="1.0"/>
<circle cx="350.35" cy="558.13" r="1.1" fill="#fff" stroke="#45c4b8" stroke-width="1.0"/>
<circle cx="361.20" cy="553.24" r="1.1" fill="#fff" stroke="#45c4b8" stroke-width="1.0"/>
<circle cx="370.50" cy="548.87" r="1.1" fill="#fff" stroke="#45c4b8" stroke-width="1.0"/>
<circle cx="372.05" cy="575.00" r="1.1" fill="#fff" stroke="#45c4b8" stroke-width="1.0"/>
<circle cx="382.90" cy="569.24" r="1.1" fill="#fff" stroke="#45c4b8" stroke-width="1.0"/>
<circle cx="393.75" cy="560.18" r="1.1" fill="#fff" stroke="#45c4b8" stroke-width="1.0"/>
<circle cx="404.60" cy="552.16" r="1.1" fill="#fff" stroke="#45c4b8" stroke-width="1.0"/>
<circle cx="413.90" cy="545.28" r="1.1" fill="#fff" stroke="#45c4b8" stroke-width="1.0"/>
<circle cx="415.45" cy="575.00" r="1.1" fill="#fff" stroke="#45c4b8" stroke-width="1.0"/>
<circle cx="426.30" cy="559.31" r="1.1" fill="#fff" stroke="#45c4b8" stroke-width="1.0"/>
<circle cx="432.50" cy="558.13" r="1.1" fill="#fff" stroke="#45c4b8" stroke-width="1.0"/>
<line x1="38.80" y1="575.00" x2="38.80" y2="577.60" stroke="#8a8d96" stroke-width="0.8"/>
<text x="38.80" y="583.90" font-size="6.3" text-anchor="middle" fill="#63656d">Jul</text>
<line x1="134.90" y1="575.00" x2="134.90" y2="577.60" stroke="#8a8d96" stroke-width="0.8"/>
<text x="134.90" y="583.90" font-size="6.3" text-anchor="middle" fill="#63656d">Sep</text>
<line x1="229.45" y1="575.00" x2="229.45" y2="577.60" stroke="#8a8d96" stroke-width="0.8"/>
<text x="229.45" y="583.90" font-size="6.3" text-anchor="middle" fill="#63656d">Nov</text>
<line x1="324.00" y1="575.00" x2="324.00" y2="577.60" stroke="#8a8d96" stroke-width="0.8"/>
<text x="324.00" y="583.90" font-size="6.3" font-weight="bold" text-anchor="middle" fill="#555">2026</text>
<line x1="415.45" y1="575.00" x2="415.45" y2="577.60" stroke="#8a8d96" stroke-width="0.8"/>
<text x="415.45" y="583.90" font-size="6.3" text-anchor="middle" fill="#63656d">Mar</text>
<line x1="510.00" y1="575.00" x2="510.00" y2="577.60" stroke="#8a8d96" stroke-width="0.8"/>
<text x="510.00" y="583.90" font-size="6.3" text-anchor="middle" fill="#63656d">May</text>
<line x1="524.40" y1="471.00" x2="537.10" y2="471.00" stroke="#4549c1" stroke-width="1"/>
<circle cx="530.75" cy="471.00" r="2.75" fill="#fff" stroke="#4549c1" stroke-width="1.1"/>
<text x="540.00" y="473.00" font-size="6.0" textLength="14.40" lengthAdjust="spacingAndGlyphs" fill="#333">Target</text>
<rect x="559.70" y="467.50" width="12.30" height="7" rx="1.6" fill="#45c4b8"/>
<text x="574.70" y="473.00" font-size="6.0" textLength="28.20" lengthAdjust="spacingAndGlyphs" fill="#333">Billable fees</text>
<rect x="618.30" y="360.40" width="190.30" height="73.90" rx="3" fill="#fff" stroke="#dcdde0" stroke-width="0.9"/>
<rect x="624.0" y="365.95" width="179.0" height="19.9" rx="1.5" fill="#454bc3"/>
<rect x="624.0" y="365.95" width="111.59" height="19.9" rx="1.5" fill="#45c4b8"/>
<text x="626.50" y="383.00" font-size="18" font-weight="bold" textLength="52.60" lengthAdjust="spacingAndGlyphs" fill="#fff" stroke="#fff" stroke-width="0.8">62.34%</text>
<text x="624.00" y="403.20" font-size="12" font-weight="bold" textLength="84.30" lengthAdjust="spacingAndGlyphs" fill="#6c7f99" stroke="#6c7f99" stroke-width="0.3">$57.77k / $92.66k</text>
<text x="624.00" y="416.00" font-size="7" font-weight="bold" textLength="31.00" lengthAdjust="spacingAndGlyphs" fill="#6c7f99" stroke="#6c7f99" stroke-width="0.45">Billable fees</text>
<rect x="618.30" y="485.50" width="190.30" height="73.90" rx="3" fill="#fff" stroke="#dcdde0" stroke-width="0.9"/>
<rect x="624.0" y="491.05" width="179.0" height="19.9" rx="1.5" fill="#454bc3"/>
<rect x="624.0" y="491.05" width="179.00" height="19.9" rx="1.5" fill="#45c4b8"/>
<text x="626.50" y="508.10" font-size="18" font-weight="bold" textLength="61.00" lengthAdjust="spacingAndGlyphs" fill="#fff" stroke="#fff" stroke-width="0.8">102.43%</text>
<text x="624.00" y="525.80" font-size="9.8" font-weight="bold" textLength="89.70" lengthAdjust="spacingAndGlyphs" fill="#6c7f99" stroke="#6c7f99" stroke-width="0.3">target reached 4 / 8 times</text>
<text x="624.00" y="540.40" font-size="7" font-weight="bold" textLength="31.00" lengthAdjust="spacingAndGlyphs" fill="#6c7f99" stroke="#6c7f99" stroke-width="0.45">Billable fees</text>
</svg>
</body></html>
